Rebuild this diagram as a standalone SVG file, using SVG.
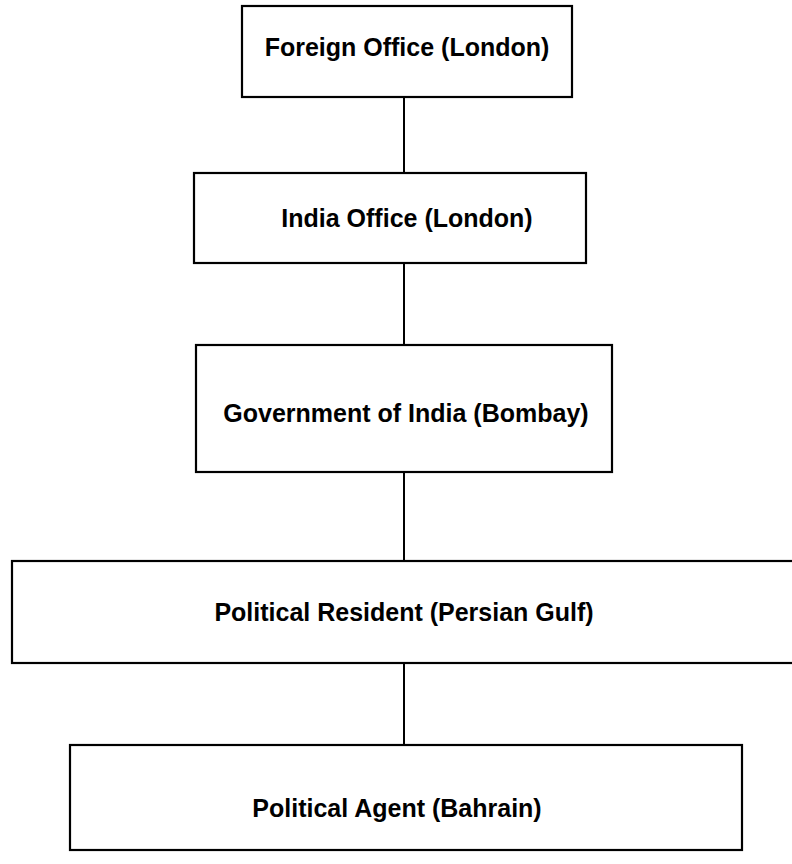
<svg xmlns="http://www.w3.org/2000/svg" width="792" height="864" viewBox="0 0 792 864">
<style>
.box{fill:#fff;stroke:#000;stroke-width:2.2}
.lbl{font-family:"Liberation Sans",Arial,sans-serif;font-weight:bold;font-size:25px;fill:#000;text-anchor:middle;dominant-baseline:central}
.conn{stroke:#000;stroke-width:2;fill:none}
</style>
<rect width="792" height="864" fill="#fff"/>
<g id="connectors">
<line class="conn" x1="404" y1="97" x2="404" y2="173"/>
<line class="conn" x1="404" y1="263" x2="404" y2="345"/>
<line class="conn" x1="404" y1="472" x2="404" y2="561"/>
<line class="conn" x1="404" y1="663" x2="404" y2="745"/>
</g>
<g id="foreign-office">
<rect class="box" x="242" y="6" width="330" height="91"/>
<text class="lbl" x="407" y="47">Foreign Office (London)</text>
</g>
<g id="india-office">
<rect class="box" x="194" y="173" width="392" height="90"/>
<text class="lbl" x="407" y="218">India Office (London)</text>
</g>
<g id="government-of-india">
<rect class="box" x="196" y="345" width="416" height="127"/>
<text class="lbl" x="406" y="413">Government of India (Bombay)</text>
</g>
<g id="political-resident">
<rect class="box" x="12" y="561" width="790" height="102"/>
<text class="lbl" x="404" y="612">Political Resident (Persian Gulf)</text>
</g>
<g id="political-agent">
<rect class="box" x="70" y="745" width="672" height="105"/>
<text class="lbl" x="397" y="808">Political Agent (Bahrain)</text>
</g>
</svg>
